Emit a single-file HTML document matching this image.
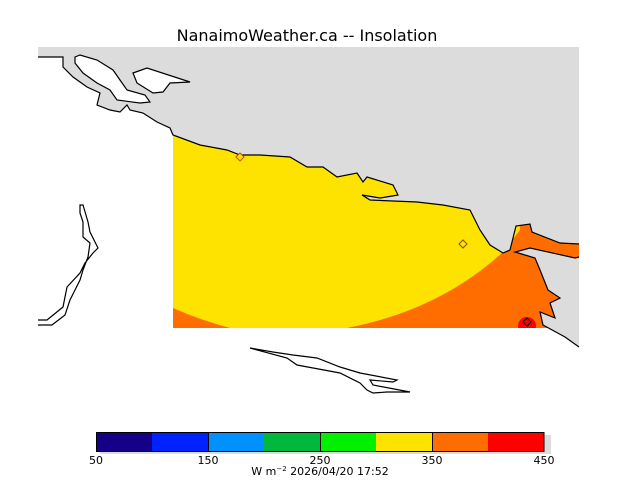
<!DOCTYPE html>
<html><head><meta charset="utf-8"><style>
html,body{margin:0;padding:0;background:#fff;width:640px;height:480px;overflow:hidden}
svg{display:block}
text{font-family:"DejaVu Sans","Liberation Sans",sans-serif}
</style></head><body>
<svg width="640" height="480" xmlns="http://www.w3.org/2000/svg">
<defs>
<clipPath id="dc"><rect x="173" y="120" width="406" height="208"/></clipPath>
<clipPath id="wc"><path id="wp" d="M38,57 L63,57 L63,67 L73,77 L87,87 L100,93 L97,105 L110,110 L120,112 L127,105 L130,110 L143,113 L157,122 L170,128 L173,135 L200,145 L227,150 L240,155 L260,155 L290,157 L307,167 L323,167 L337,177 L357,173 L363,182 L367,177 L393,185 L398,195 L380,198 L362,195 L370,200 L417,202 L443,205 L470,210 L475,220 L480,230 L490,245 L503,253 L510,250 L516,226 L530,224 L532,232 L560,243 L579,244 L579,257 L575,258 L530,248 L515,252 L535,258 L540,270 L548,290 L560,298 L550,303 L555,318 L540,312 L543,325 L565,337 L579,347 L579,348 L38,348 Z"/></clipPath>
</defs>
<text x="307" y="41" font-size="16" text-anchor="middle" fill="#000">NanaimoWeather.ca -- Insolation</text>
<rect x="38" y="47" width="541" height="301" fill="#dcdcdc"/>
<use href="#wp" fill="#fff"/>
<g clip-path="url(#wc)">
<g clip-path="url(#dc)">
<rect x="173" y="120" width="406" height="208" fill="#ff6d00"/>
<path d="M173,120 L173,308 Q200,320 230,328 L347,328 Q440,310 503,252 L520,230 L520,120 Z" fill="#ffe300"/>
<circle cx="527" cy="326" r="9" fill="#ff0000"/>
</g>
</g>
<path d="M38,57 L63,57 L63,67 L73,77 L87,87 L100,93 L97,105 L110,110 L120,112 L127,105 L130,110 L143,113 L157,122 L170,128 L173,135 L200,145 L227,150 L240,155 L260,155 L290,157 L307,167 L323,167 L337,177 L357,173 L363,182 L367,177 L393,185 L398,195 L380,198 L362,195 L370,200 L417,202 L443,205 L470,210 L475,220 L480,230 L490,245 L503,253 L510,250 L516,226 L530,224 L532,232 L560,243 L579,244 M579,257 L575,258 L530,248 L515,252 L535,258 L540,270 L548,290 L560,298 L550,303 L555,318 L540,312 L543,325 L565,337 L579,347" fill="none" stroke="#000" stroke-width="1.2"/>
<path d="M75,57 L80,55 L97,60 L113,70 L120,80 L127,90 L145,95 L150,102 L140,103 L117,100 L110,90 L97,83 L83,73 L75,63 Z" fill="#fff" stroke="#000" stroke-width="1.2"/>
<path d="M133,73 L147,68 L190,82 L170,83 L163,92 L153,93 L137,83 Z" fill="#fff" stroke="#000" stroke-width="1.2"/>
<path d="M38,320 L47,320 L63,307 L67,287 L80,273 L85,263 L93,253 L98,248 L90,232 L88,222 L83,205 L80,205 L80,213 L83,222 L83,237 L90,243 L88,257 L83,270 L80,280 L75,290 L70,300 L65,315 L52,325 L38,325" fill="none" stroke="#000" stroke-width="1.2"/>
<path d="M250,348 L273,352 L293,355 L317,358 L340,367 L360,373 L397,380 L393,382 L370,380 L373,385 L410,392 L387,392 L373,393 L367,390 L360,383 L340,373 L297,365 L287,358 Z" fill="none" stroke="#000" stroke-width="1.2"/>
<path d="M240,153 L244,157 L240,161 L236,157 Z" fill="#ffe300" stroke="#c05000" stroke-width="1"/>
<path d="M463,240 L467,244 L463,248 L459,244 Z" fill="#ffe300" stroke="#805000" stroke-width="1"/>
<path d="M527,318 L531,322 L527,326 L523,322 Z" fill="none" stroke="#000" stroke-width="1"/>
<rect x="100" y="435" width="451" height="19" fill="#dcdcdc"/>
<rect x="96" y="432" width="56" height="19" fill="#150088"/>
<rect x="152" y="432" width="56" height="19" fill="#0022ff"/>
<rect x="208" y="432" width="56" height="19" fill="#0090ff"/>
<rect x="264" y="432" width="56" height="19" fill="#00b83b"/>
<rect x="320" y="432" width="56" height="19" fill="#00f000"/>
<rect x="376" y="432" width="56" height="19" fill="#ffe300"/>
<rect x="432" y="432" width="56" height="19" fill="#ff6d00"/>
<rect x="488" y="432" width="56" height="19" fill="#ff0000"/>
<rect x="96.5" y="432.5" width="447.5" height="19" fill="none" stroke="#000" stroke-width="1"/>
<path d="M208.5,432 V451 M320.5,432 V451 M432.5,432 V451" stroke="#000" stroke-width="1"/>
<g font-size="11" text-anchor="middle" fill="#000">
<text x="96" y="464">50</text><text x="208" y="464">150</text><text x="320" y="464">250</text><text x="432" y="464">350</text><text x="544" y="464">450</text>
<text x="320" y="475">W m<tspan font-size="7" dy="-4">−2</tspan><tspan dy="4">  2026/04/20 17:52</tspan></text>
</g>
</svg>
</body></html>
